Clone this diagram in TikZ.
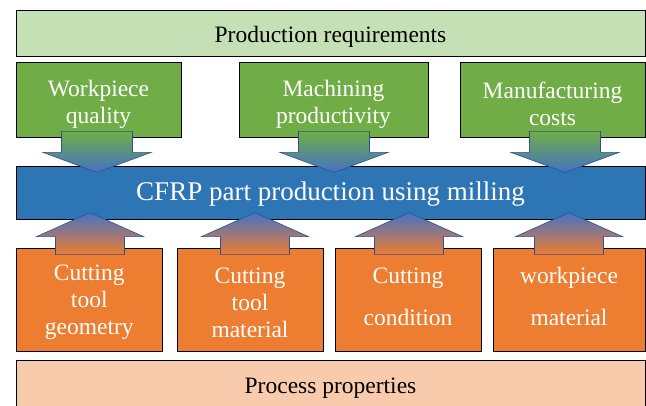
\documentclass[tikz,border=0pt]{standalone}
\usepackage{fontspec}
\setmainfont{Liberation Serif}
\definecolor{lgreen}{HTML}{C5E0B4}
\definecolor{mgreen}{HTML}{70AD47}
\definecolor{cblue}{HTML}{2E75B6}
\definecolor{ablue}{HTML}{4472C4}
\definecolor{dblue}{HTML}{2F528F}
\definecolor{orng}{HTML}{ED7D31}
\definecolor{lorng}{HTML}{F8CBAD}
\newcommand\topstrut[1]{\rule{0pt}{#1}}

\begin{document}
\begin{tikzpicture}[x=1pt, y=-1pt,
  box/.style={draw=black, line width=0.8pt, inner sep=0pt, align=center,
    font=\fontsize{23.5}{27}\selectfont, execute at begin node=\topstrut{22pt}},
  wide/.style={box, minimum width=629pt},
  goal/.style={box, fill=mgreen, text=white, minimum height=75pt, execute at begin node=\topstrut{53pt}},
  factor/.style={box, fill=orng, text=white, minimum height=103pt},
  threeline/.style={factor, execute at begin node=\topstrut{76pt}},
  twoline/.style={factor, text depth=11pt, execute at begin node=\topstrut{62pt}},
  dnarr/.style={draw=dblue, line width=0.6pt, top color=mgreen, bottom color=ablue},
  uparr/.style={draw=dblue, line width=0.6pt, top color=ablue, bottom color=orng}]
\useasboundingbox (0,0) rectangle (646,405);
% production requirements
\node[wide, fill=lgreen, minimum height=46pt, execute at begin node=\topstrut{24pt}] (req) at (330.5,33) {Production requirements};
\node[goal, minimum width=165pt] (wq) at (98.5,99.5) {Workpiece\\quality};
\node[goal, minimum width=189pt] (mp) at (333.5,99.5) {Machining\\productivity};
\node[goal, minimum width=185pt] (mc) at (552.5,99.5) {Manufacturing\\costs};
% milling process
\node[wide, fill=cblue, text=white, minimum height=53pt, font=\fontsize{27}{30}\selectfont] (cfrp) at (330.5,192.5) {CFRP part production using milling};
% process properties
\node[threeline, minimum width=145.5pt] (geo) at (89.25,299.5) {Cutting\\tool\\geometry};
\node[threeline, minimum width=146pt] (tmat) at (250,299.5) {Cutting\\tool\\material};
\node[twoline, minimum width=146pt] (cond) at (408,299.5) {Cutting\\[15pt]condition};
\node[twoline, minimum width=152pt] (wmat) at (569,299.5) {workpiece\\[15pt]material};
\node[wide, fill=lorng, minimum height=50pt] (proc) at (330.5,385) {Process properties};
% block arrows
\foreach \n/\d in {wq/-1.5, mp/0.5, mc/12.5}
  \draw[dnarr] ([shift={(\d-35.5,-6)}]\n.south) -- ++(71,0) -- ++(0,21) -- ++(18.5,0) -- ++(-54,20) -- ++(-54,-20) -- ++(18.5,0) -- cycle;
\foreach \n/\d in {geo/0.75, tmat/5, cond/1, wmat/0}
  \draw[uparr] ([shift={(\d-34.5,7)}]\n.north) -- ++(0,-18) -- ++(-19,0) -- ++(53.5,-24) -- ++(53.5,24) -- ++(-19,0) -- ++(0,18) -- cycle;
\end{tikzpicture}
\end{document}
